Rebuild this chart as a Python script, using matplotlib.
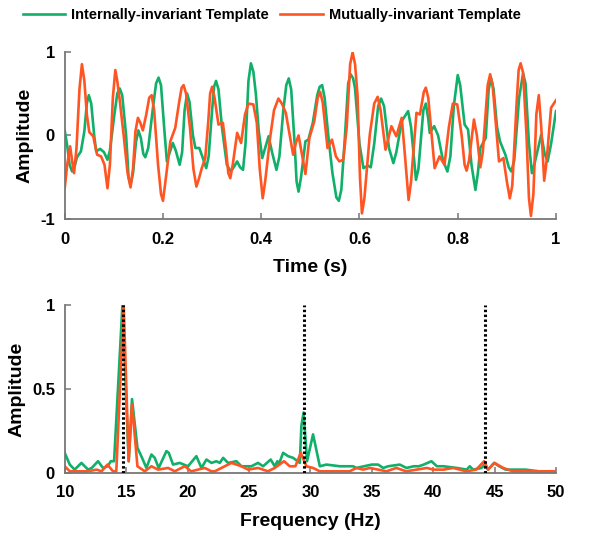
import matplotlib
matplotlib.use("Agg")
import matplotlib.pyplot as plt

plt.rcParams['font.family'] = ['Liberation Sans', 'DejaVu Sans']
plt.rcParams['font.weight'] = 'bold'

# 时域模板 (时间 s, 幅值)
t_internal = [0.0, 0.005, 0.010, 0.015, 0.020, 0.025, 0.033, 0.040, 0.045, 0.049,
              0.054, 0.060, 0.064, 0.072, 0.080, 0.087, 0.092, 0.100, 0.107, 0.112,
              0.117, 0.125, 0.130, 0.134, 0.139, 0.145, 0.150, 0.155, 0.160, 0.164,
              0.170, 0.180, 0.186, 0.191, 0.196, 0.203, 0.208, 0.213, 0.220, 0.226,
              0.234, 0.239, 0.244, 0.249, 0.254, 0.261, 0.266, 0.274, 0.280, 0.288,
              0.293, 0.300, 0.304, 0.308, 0.313, 0.320, 0.330, 0.338, 0.344, 0.351,
              0.357, 0.363, 0.368, 0.374, 0.379, 0.384, 0.389, 0.395, 0.402, 0.408,
              0.415, 0.422, 0.431, 0.437, 0.445, 0.451, 0.456, 0.461, 0.468, 0.472,
              0.476, 0.481, 0.490, 0.496, 0.505, 0.514, 0.519, 0.524, 0.529, 0.537,
              0.545, 0.553, 0.558, 0.563, 0.570, 0.577, 0.582, 0.587, 0.591, 0.600,
              0.608, 0.617, 0.623, 0.630, 0.638, 0.644, 0.650, 0.660, 0.669, 0.675,
              0.686, 0.699, 0.705, 0.715, 0.720, 0.730, 0.735, 0.740, 0.743, 0.752,
              0.760, 0.770, 0.779, 0.785, 0.792, 0.800, 0.805, 0.814, 0.821, 0.828,
              0.836, 0.841, 0.846, 0.857, 0.863, 0.868, 0.873, 0.880, 0.886, 0.897,
              0.904, 0.909, 0.915, 0.925, 0.933, 0.938, 0.945, 0.951, 0.957, 0.970,
              0.977, 0.983, 0.990, 1.0]
a_internal = [0.06, -0.12, -0.35, -0.43, -0.37, -0.26, -0.19, 0.05, 0.38, 0.48,
              0.38, 0.00, -0.19, -0.16, -0.20, -0.29, -0.18, 0.20, 0.50, 0.56,
              0.48, 0.00, -0.50, -0.59, -0.45, -0.08, 0.06, -0.03, -0.22, -0.26,
              -0.15, 0.35, 0.62, 0.69, 0.60, 0.05, -0.31, -0.22, -0.09, -0.18,
              -0.35, -0.20, 0.30, 0.50, 0.40, 0.00, -0.15, -0.15, -0.25, -0.39,
              -0.25, 0.30, 0.58, 0.65, 0.55, 0.10, -0.35, -0.43, -0.38, -0.31,
              -0.38, -0.41, -0.10, 0.65, 0.86, 0.76, 0.50, 0.05, -0.27, -0.15,
              -0.01, -0.20, -0.41, -0.25, 0.30, 0.60, 0.68, 0.55, -0.10, -0.55,
              -0.67, -0.50, -0.07, -0.05, 0.15, 0.48, 0.58, 0.60, 0.45, -0.03,
              -0.45, -0.74, -0.78, -0.65, -0.05, 0.62, 0.73, 0.68, 0.56, -0.10,
              -0.39, -0.36, -0.38, -0.10, 0.35, 0.44, 0.35, -0.15, -0.33, -0.20,
              0.17, 0.29, 0.10, -0.53, -0.40, 0.30, 0.38, 0.20, 0.03, 0.11,
              0.00, -0.30, -0.43, -0.25, 0.35, 0.72, 0.60, 0.13, 0.07, -0.35,
              -0.65, -0.45, -0.15, -0.03, 0.55, 0.68, 0.55, 0.10, -0.07, -0.23,
              -0.38, -0.43, -0.30, 0.45, 0.74, 0.62, -0.10, -0.45, -0.32, 0.01,
              -0.22, -0.31, -0.10, 0.29]

t_mutual = [0.0, 0.005, 0.011, 0.015, 0.019, 0.024, 0.030, 0.035, 0.040, 0.045,
            0.050, 0.058, 0.066, 0.074, 0.081, 0.087, 0.092, 0.098, 0.103, 0.107,
            0.112, 0.120, 0.128, 0.134, 0.139, 0.144, 0.149, 0.154, 0.159, 0.166,
            0.172, 0.177, 0.182, 0.190, 0.196, 0.200, 0.205, 0.215, 0.225, 0.233,
            0.238, 0.242, 0.247, 0.255, 0.262, 0.268, 0.273, 0.279, 0.286, 0.292,
            0.296, 0.300, 0.305, 0.313, 0.322, 0.328, 0.333, 0.337, 0.342, 0.351,
            0.359, 0.367, 0.374, 0.384, 0.391, 0.397, 0.403, 0.408, 0.418, 0.426,
            0.435, 0.442, 0.450, 0.458, 0.465, 0.471, 0.476, 0.482, 0.490, 0.498,
            0.508, 0.515, 0.520, 0.525, 0.535, 0.544, 0.552, 0.559, 0.567, 0.574,
            0.581, 0.586, 0.591, 0.596, 0.601, 0.605, 0.610, 0.621, 0.630, 0.637,
            0.643, 0.653, 0.665, 0.675, 0.686, 0.692, 0.700, 0.705, 0.716, 0.723,
            0.731, 0.735, 0.740, 0.753, 0.763, 0.773, 0.782, 0.790, 0.799, 0.808,
            0.814, 0.818, 0.823, 0.833, 0.839, 0.846, 0.851, 0.861, 0.866, 0.871,
            0.884, 0.893, 0.900, 0.906, 0.911, 0.920, 0.924, 0.928, 0.933, 0.940,
            0.945, 0.949, 0.954, 0.960, 0.965, 0.970, 0.976, 0.981, 0.990, 1.0]
a_mutual = [-0.63, -0.35, -0.13, -0.30, -0.45, -0.15, 0.55, 0.85, 0.65, 0.25,
            0.04, -0.01, -0.23, -0.25, -0.35, -0.63, -0.35, 0.45, 0.78, 0.65,
            0.42, 0.00, -0.45, -0.62, -0.40, 0.05, 0.21, 0.15, 0.06, 0.25,
            0.45, 0.48, 0.30, -0.35, -0.70, -0.78, -0.55, -0.07, 0.09, 0.40,
            0.57, 0.60, 0.50, 0.09, -0.40, -0.61, -0.52, -0.39, -0.27, 0.15,
            0.50, 0.58, 0.45, 0.13, 0.15, -0.15, -0.45, -0.51, -0.35, 0.03,
            -0.09, 0.25, 0.38, 0.37, 0.15, -0.40, -0.75, -0.55, -0.03, 0.30,
            0.44, 0.38, 0.27, 0.00, -0.23, -0.08, 0.00, -0.20, -0.46, -0.03,
            0.17, 0.45, 0.52, 0.40, -0.15, -0.05, -0.25, -0.31, -0.29, 0.10,
            0.85, 0.99, 0.85, 0.48, -0.50, -0.93, -0.75, 0.01, 0.38, 0.46,
            0.30, -0.17, 0.11, -0.01, 0.21, -0.20, -0.77, -0.55, 0.27, 0.25,
            0.52, 0.57, 0.45, -0.39, -0.25, -0.35, 0.10, 0.38, 0.37, 0.00,
            -0.35, -0.42, -0.30, 0.19, 0.00, -0.38, -0.20, 0.60, 0.73, 0.60,
            -0.31, -0.27, -0.55, -0.75, -0.60, 0.40, 0.78, 0.86, 0.75, 0.00,
            -0.75, -0.96, -0.70, 0.25, 0.48, 0.10, -0.54, -0.30, 0.33, 0.42]

# 频谱 (频率 Hz, 归一化幅值)
f_internal = [10.0, 10.41, 10.81, 11.36, 11.9, 12.2, 12.71, 13.12, 13.5, 13.75,
              14.02, 14.7, 15.21, 15.48, 15.92, 16.3, 16.65, 17.06, 17.33, 17.65,
              18.28, 18.47, 18.82, 19.36, 20.04, 20.72, 21.13, 21.54, 21.95, 22.35,
              22.62, 22.9, 23.3, 23.98, 24.39, 25.2, 25.74, 26.15, 26.77, 27.1,
              27.32, 27.43, 27.78, 28.19, 28.6, 29.14, 29.27, 29.45, 29.73, 30.22,
              30.77, 31.31, 32.4, 33.48, 33.75, 35.0, 35.52, 35.93, 36.34, 37.28,
              37.83, 38.42, 38.83, 39.23, 39.86, 40.3, 40.84, 41.93, 42.74, 42.98,
              43.25, 43.93, 44.2, 44.47, 44.96, 45.37, 45.9, 47.51, 48.6, 50.0]
s_internal = [0.12, 0.05, 0.02, 0.06, 0.02, 0.03, 0.07, 0.03, 0.04, 0.07,
              0.07, 1.0, 0.07, 0.44, 0.15, 0.09, 0.03, 0.11, 0.09, 0.03,
              0.13, 0.12, 0.05, 0.06, 0.04, 0.10, 0.03, 0.08, 0.06, 0.07,
              0.06, 0.09, 0.06, 0.07, 0.04, 0.04, 0.06, 0.04, 0.08, 0.04,
              0.07, 0.05, 0.12, 0.10, 0.09, 0.06, 0.28, 0.36, 0.07, 0.23,
              0.04, 0.05, 0.04, 0.04, 0.03, 0.05, 0.05, 0.03, 0.04, 0.05,
              0.03, 0.04, 0.04, 0.05, 0.07, 0.04, 0.04, 0.03, 0.02, 0.04,
              0.02, 0.03, 0.05, 0.02, 0.06, 0.04, 0.02, 0.02, 0.01, 0.01]

f_mutual = [10.0, 10.41, 11.9, 12.6, 13.0, 13.48, 13.93, 14.2, 14.8, 15.21,
            15.48, 15.92, 16.52, 17.06, 17.6, 18.42, 18.96, 19.77, 20.3, 21.4,
            21.95, 22.22, 22.76, 23.57, 24.39, 24.93, 25.74, 26.55, 27.1, 27.86,
            28.32, 28.78, 29.22, 29.68, 30.22, 30.77, 33.2, 33.75, 34.3, 34.84,
            36.2, 37.0, 37.8, 39.5, 40.0, 40.84, 41.63, 42.7, 43.5, 44.15,
            44.47, 45.0, 45.7, 46.5, 50.0]
s_mutual = [0.04, 0.01, 0.01, 0.02, 0.01, 0.05, 0.01, 0.01, 1.0, 0.07,
            0.41, 0.04, 0.01, 0.04, 0.02, 0.03, 0.01, 0.04, 0.01, 0.03,
            0.01, 0.01, 0.03, 0.06, 0.04, 0.02, 0.03, 0.01, 0.03, 0.07,
            0.04, 0.04, 0.12, 0.04, 0.03, 0.01, 0.01, 0.03, 0.02, 0.03,
            0.01, 0.03, 0.01, 0.03, 0.02, 0.02, 0.03, 0.01, 0.02, 0.07,
            0.02, 0.06, 0.03, 0.01, 0.01]

# 刺激频率及其谐波
harmonics = [14.75, 29.5, 44.25]

green = '#10b06a'
orange = '#ff5522'
axis_gray = '#777777'


def style_axes(ax):
    for side in ['top', 'right']:
        ax.spines[side].set_visible(False)
    for side in ['left', 'bottom']:
        ax.spines[side].set_color(axis_gray)
        ax.spines[side].set_linewidth(1.3)
    ax.tick_params(direction='in', length=4, width=1.1, color=axis_gray,
                   labelsize=12, labelcolor='black')
    ax.tick_params(axis='x', pad=9)
    ax.tick_params(axis='y', pad=7)
    for lbl in ax.get_xticklabels() + ax.get_yticklabels():
        lbl.set_fontweight('bold')


fig = plt.figure(figsize=(5.97, 5.33), dpi=100)

# 1. 时域
ax1 = fig.add_axes([0.1084, 0.5886, 0.8229, 0.3146])
l1, = ax1.plot(t_internal, a_internal, color=green, linewidth=1.9,
               solid_joinstyle='round', label='Internally-invariant Template')
l2, = ax1.plot(t_mutual, a_mutual, color=orange, linewidth=1.9,
               solid_joinstyle='round', label='Mutually-invariant Template')
ax1.set_xlim(0, 1)
ax1.set_ylim(-1, 1)
ax1.set_xticks([0, 0.2, 0.4, 0.6, 0.8, 1])
ax1.set_xticklabels(['0', '0.2', '0.4', '0.6', '0.8', '1'])
ax1.set_yticks([-1, 0, 1])
ax1.set_yticklabels(['-1', '0', '1'])
ax1.set_xlabel('Time (s)', fontsize=14, fontweight='bold', labelpad=9)
ax1.set_ylabel('Amplitude', fontsize=14, fontweight='bold', labelpad=5)
style_axes(ax1)

# 2. 频域
ax2 = fig.add_axes([0.1084, 0.1126, 0.8229, 0.3152])
ax2.plot(f_internal, s_internal, color=green, linewidth=1.9, solid_joinstyle='round')
ax2.plot(f_mutual, s_mutual, color=orange, linewidth=1.9, solid_joinstyle='round')
for h in harmonics:
    ax2.plot([h, h], [0, 1], color='black', linewidth=2.2,
             linestyle=(0, (0.8, 0.8)), zorder=5)
ax2.set_xlim(10, 50)
ax2.set_ylim(0, 1)
ax2.set_xticks(range(10, 51, 5))
ax2.set_yticks([0, 0.5, 1])
ax2.set_yticklabels(['0', '0.5', '1'])
ax2.set_xlabel('Frequency (Hz)', fontsize=14, fontweight='bold', labelpad=9)
ax2.set_ylabel('Amplitude', fontsize=14, fontweight='bold', labelpad=5)
style_axes(ax2)

fig.legend(handles=[l1, l2], loc='upper center', bbox_to_anchor=(0.455, 1.01),
           ncol=2, frameon=False, handlelength=2.9,
           columnspacing=0.8, handletextpad=0.4, prop={'weight': 'bold', 'size': 10.5})

fig.savefig('out.png', dpi=100)
